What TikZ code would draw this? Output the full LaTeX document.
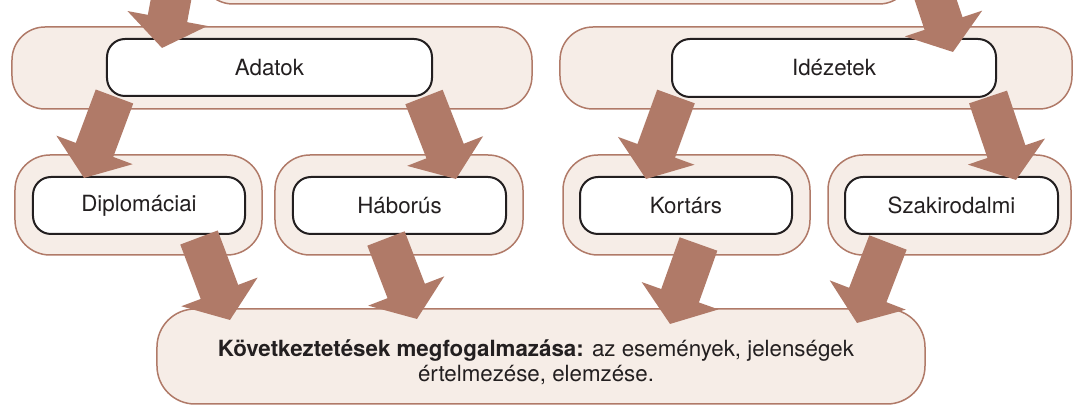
\documentclass[tikz,border=0pt]{standalone}
\usepackage{fontspec}
\setmainfont{TeX Gyre Heros}
\usepackage{xcolor}
\usepackage{tikz}
\usetikzlibrary{arrows.meta}
\definecolor{barna}{RGB}{176,122,104}
\definecolor{halvany}{RGB}{246,237,231}
\definecolor{szoveg}{RGB}{35,31,32}
\newcommand\betu{\fontsize{12.7}{14.2}\selectfont}

\begin{document}
\begin{tikzpicture}[x=0.2mm, y=-0.2mm,
    kulso/.style={draw=barna, fill=halvany, line width=0.3mm, rounded corners=6.6mm},
    belso/.style={draw=szoveg, fill=white, line width=0.4mm, rounded corners=3.6mm,
      minimum height=11.4mm, text=szoveg, font=\betu},
    nyil/.style={draw=barna, line width=8mm, -{Triangle[length=6mm, width=16mm]}}]
    \clip (0, 0) rectangle (1073, 405);

    \coordinate (Felso) at (556, -38);
    \coordinate (Adat) at (269.5, 67.5);
    \coordinate (Idez) at (834, 68);
    \coordinate (Dipl) at (139, 205.5);
    \coordinate (Hab) at (399.5, 205.5);
    \coordinate (Kort) at (686, 205.5);
    \coordinate (Szak) at (951.5, 205.5);
    \coordinate (Kov) at (541, 356.5);

    % hatter dobozok
    \node[kulso, minimum width=142.4mm, minimum height=16.8mm] (felso) at (Felso) {};
    \node[kulso, minimum width=104mm, minimum height=16.4mm] (adatokbg) at (272, 68) {};
    \node[kulso, minimum width=102.4mm, minimum height=16.4mm] (idezetekbg) at (816, 68) {};
    \node[kulso, rounded corners=7mm, minimum width=49.4mm, minimum height=20mm] (diplobg) at (138.5, 205) {};
    \node[kulso, rounded corners=7mm, minimum width=49.6mm, minimum height=20mm] (haborusbg) at (399, 205) {};
    \node[kulso, rounded corners=7mm, minimum width=49.4mm, minimum height=20mm] (kortarsbg) at (686.5, 205) {};
    \node[kulso, rounded corners=7mm, minimum width=48.6mm, minimum height=20mm] (szakbg) at (949.5, 205) {};
    \node[kulso, rounded corners=7.6mm, minimum width=153.6mm, minimum height=19mm] (kov) at (Kov) {};

    \node[belso, minimum width=65mm] (adatok) at (Adat) {Adatok};
    \node[belso, minimum width=64.8mm, minimum height=11.6mm] (idezetek) at (Idez) {Idézetek};
    \node[belso, minimum width=42.4mm] (diplo) at (Dipl) {Diplomáciai};
    \node[belso, minimum width=42.6mm] (haborus) at (Hab) {Háborús};
    \node[belso, minimum width=42.4mm] (kortars) at (Kort) {Kortárs};
    \node[belso, minimum width=42.6mm] (szak) at (Szak) {Szakirodalmi};

    \node[text=szoveg, font=\betu, align=center] (kovszoveg) at (536, 362)
      {\textbf{Következtetések megfogalmazása:} az események, jelenségek\\értelmezése, elemzése.};

    % nyilak
    \coordinate (Felsol) at (184, -70);
    \coordinate (Felsor) at (915, -62);
    \coordinate (Adatl) at (114.5, 96.5);
    \coordinate (Adatr) at (424, 97);
    \coordinate (Idezl) at (676, 96.5);
    \coordinate (Idezr) at (988, 97);
    \coordinate (Diplb) at (199, 237.5);
    \coordinate (Habb) at (386, 238.5);
    \coordinate (Kortb) at (698.5, 244);
    \coordinate (Szakb) at (888, 242.5);

    \coordinate (Adatt) at (162, 48);
    \coordinate (Idezt) at (953, 52);
    \coordinate (Diplt) at (84, 178);
    \coordinate (Habt) at (456, 179);
    \coordinate (Kortt) at (646, 179);
    \coordinate (Szakt) at (1016, 180);
    \coordinate (Kovt1) at (230, 320);
    \coordinate (Kovt2) at (417, 319);
    \coordinate (Kovt3) at (670, 324);
    \coordinate (Kovt4) at (857, 323);

    \draw[nyil] (Felsol) -- (Adatt);
    \draw[nyil] (Felsor) -- (Idezt);
    \draw[nyil] (Adatl) -- (Diplt);
    \draw[nyil] (Adatr) -- (Habt);
    \draw[nyil] (Idezl) -- (Kortt);
    \draw[nyil] (Idezr) -- (Szakt);
    \draw[nyil] (Diplb) -- (Kovt1);
    \draw[nyil] (Habb) -- (Kovt2);
    \draw[nyil] (Kortb) -- (Kovt3);
    \draw[nyil] (Szakb) -- (Kovt4);
\end{tikzpicture}
\end{document}
